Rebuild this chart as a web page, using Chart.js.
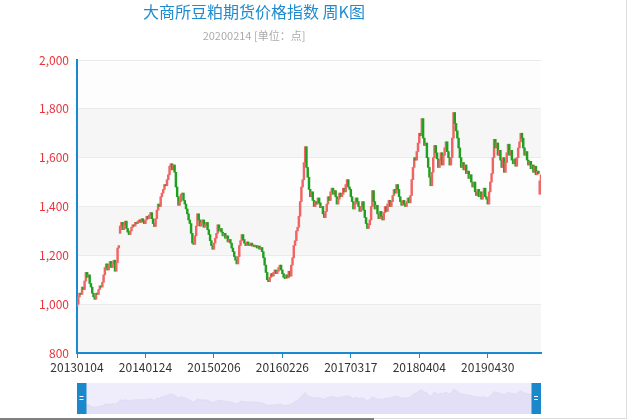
<!DOCTYPE html>
<html>
<head>
<meta charset="utf-8">
<script src="https://cdn.jsdelivr.net/npm/chart.js@4.4.1/dist/chart.umd.min.js"></script>
<style>
html, body { margin: 0; padding: 0; background: #fff; }
#wrap { position: relative; width: 632px; height: 420px; overflow: hidden; font-family: 'Noto Sans CJK SC', 'Noto Sans', sans-serif; }
#main { position: absolute; left: 0; top: 0; }
#zoom { position: absolute; left: 77px; top: 383px; }
#title { position: absolute; left: 0; top: 1px; width: 508px; text-align: center; font-size: 16px; line-height: 20px; color: #1f8bcf; white-space: nowrap; }
#subtitle { position: absolute; left: 0; top: 28px; width: 508px; text-align: center; font-size: 11px; line-height: 14px; color: #aaaaaa; white-space: nowrap; }
#frameR { position: absolute; left: 626px; top: 0; width: 1px; height: 418px; background: #dcdcdc; }
#frameB { position: absolute; left: 0; top: 418px; width: 627px; height: 1px; background: #dcdcdc; }
#thumb { position: absolute; left: 0; top: 418px; width: 374px; height: 2px; background: #808080; }
</style>
</head>
<body>
<div id="wrap">
  <canvas id="main" width="632" height="420"></canvas>
  <canvas id="zoom" width="464" height="31"></canvas>
  <div id="title">大商所豆粕期货价格指数 周K图</div>
  <div id="subtitle">20200214 [单位：点]</div>
  <div id="frameR"></div>
  <div id="frameB"></div>
  <div id="thumb"></div>
</div>
<script>
// weekly candles, 20130104 .. 20200214
var tickLabels = ['20130104', '20140124', '20150206', '20160226', '20170317', '20180404', '20190430'];
var tickStep = 54;

var opens = [
  990,1000,1030,1045,1040,1070,1060,1095,1130,1110,1120,1085,1070,1045,1030,1020,1045,1040,1060,1075,
  1070,1090,1120,1150,1165,1140,1160,1175,1150,1165,1180,1135,1170,1230,1290,1320,1335,1305,1325,1340,
  1310,1295,1285,1300,1315,1325,1320,1335,1330,1340,1345,1335,1350,1340,1330,1345,1360,1350,1365,1375,
  1350,1330,1318,1350,1385,1410,1400,1440,1455,1470,1490,1485,1510,1530,1565,1575,1550,1570,1540,1480,
  1440,1405,1420,1450,1455,1425,1410,1390,1370,1345,1330,1290,1250,1245,1280,1320,1370,1345,1320,1335,
  1345,1315,1325,1335,1305,1285,1260,1240,1225,1250,1270,1290,1325,1300,1310,1295,1280,1290,1270,1280,
  1255,1265,1250,1230,1215,1195,1180,1165,1195,1240,1260,1285,1265,1250,1240,1255,1245,1240,1250,1238,
  1242,1235,1240,1230,1238,1225,1232,1215,1190,1160,1130,1100,1092,1110,1125,1115,1130,1140,1125,1135,
  1150,1160,1140,1125,1110,1105,1120,1108,1135,1115,1160,1190,1240,1260,1300,1315,1360,1420,1480,1510,
  1580,1645,1560,1520,1470,1440,1460,1425,1400,1420,1410,1435,1415,1395,1400,1370,1355,1380,1410,1440,
  1425,1460,1475,1450,1465,1440,1410,1430,1455,1440,1450,1475,1460,1490,1510,1480,1470,1440,1420,1390,
  1410,1435,1420,1400,1380,1400,1420,1385,1355,1330,1310,1325,1345,1400,1465,1420,1390,1405,1370,1350,
  1380,1360,1345,1375,1400,1380,1410,1425,1400,1420,1445,1470,1455,1490,1470,1440,1420,1405,1425,1410,
  1400,1420,1435,1415,1445,1510,1560,1600,1590,1625,1660,1700,1690,1760,1680,1650,1660,1600,1560,1520,
  1485,1540,1600,1650,1620,1595,1560,1590,1620,1570,1610,1640,1665,1625,1600,1570,1600,1680,1785,1740,
  1710,1680,1640,1600,1560,1580,1550,1570,1535,1545,1515,1530,1500,1480,1500,1460,1445,1470,1440,1460,
  1430,1450,1475,1440,1430,1410,1460,1500,1535,1600,1675,1640,1660,1610,1630,1590,1560,1600,1540,1580,
  1620,1655,1610,1630,1590,1575,1595,1565,1600,1640,1665,1700,1680,1640,1610,1625,1590,1570,1585,1555,
  1570,1540,1565,1530,1545,1450,1505
];

var closes = [
  1000,1030,1045,1040,1070,1060,1095,1130,1110,1120,1085,1070,1045,1030,1020,1045,1040,1060,1075,1070,
  1090,1120,1150,1165,1140,1160,1175,1150,1165,1180,1135,1170,1230,1240,1320,1335,1305,1325,1340,1310,
  1295,1285,1300,1315,1325,1320,1335,1330,1340,1345,1335,1350,1340,1330,1345,1360,1350,1365,1375,1350,
  1330,1318,1350,1385,1410,1400,1440,1455,1470,1490,1485,1510,1530,1565,1575,1550,1570,1540,1480,1440,
  1405,1420,1450,1455,1425,1410,1390,1370,1345,1330,1290,1250,1245,1280,1320,1370,1345,1320,1335,1345,
  1315,1325,1335,1305,1285,1260,1240,1225,1250,1270,1290,1325,1300,1310,1295,1280,1290,1270,1280,1255,
  1265,1250,1230,1215,1195,1180,1165,1195,1240,1260,1285,1265,1250,1240,1255,1245,1240,1250,1238,1242,
  1235,1240,1230,1238,1225,1232,1215,1190,1160,1130,1100,1092,1110,1125,1115,1130,1140,1125,1135,1150,
  1160,1140,1125,1110,1105,1120,1108,1135,1115,1160,1190,1240,1260,1300,1315,1360,1420,1480,1510,1580,
  1645,1560,1520,1470,1440,1460,1425,1400,1420,1410,1435,1415,1395,1400,1370,1355,1380,1410,1440,1425,
  1460,1475,1450,1465,1440,1410,1430,1455,1440,1450,1475,1460,1490,1510,1480,1470,1440,1420,1390,1410,
  1435,1420,1400,1380,1400,1420,1385,1355,1330,1310,1325,1345,1400,1465,1420,1390,1405,1370,1350,1380,
  1360,1345,1375,1400,1380,1410,1425,1400,1420,1445,1470,1455,1490,1470,1440,1420,1405,1425,1410,1400,
  1420,1435,1415,1445,1510,1560,1600,1590,1625,1660,1700,1690,1760,1680,1650,1660,1600,1560,1520,1485,
  1540,1600,1650,1620,1595,1560,1590,1620,1570,1610,1640,1665,1625,1600,1570,1600,1680,1785,1740,1710,
  1680,1640,1600,1560,1580,1550,1570,1535,1545,1515,1530,1500,1480,1500,1460,1445,1470,1440,1460,1430,
  1450,1475,1440,1430,1410,1460,1500,1535,1600,1675,1640,1660,1610,1630,1590,1560,1600,1540,1580,1620,
  1655,1610,1630,1590,1575,1595,1565,1600,1640,1665,1700,1680,1640,1610,1625,1590,1570,1585,1555,1570,
  1540,1565,1530,1545,1535,1505,1530
];

var upColor = '#f06464';
var downColor = '#20a020';
var axisBlue = '#1a8ad0';
var fontFamily = "'Noto Sans CJK SC', 'Noto Sans', sans-serif";

Chart.defaults.font.family = fontFamily;

var weekIndex = closes.map(function (c, i) { return i; });
var candles = opens.map(function (o, i) { return [o, closes[i]]; });
var candleColors = opens.map(function (o, i) { return closes[i] >= o ? upColor : downColor; });

// alternating split areas behind the grid
var bandPlugin = {
  id: 'bands',
  beforeDraw: function (chart) {
    var ctx = chart.ctx, a = chart.chartArea, y = chart.scales.y;
    ctx.save();
    for (var v = 800; v < 2000; v += 200) {
      ctx.fillStyle = ((v - 800) / 200) % 2 === 0 ? '#f6f6f6' : '#fdfdfd';
      var top = y.getPixelForValue(v + 200), bot = y.getPixelForValue(v);
      ctx.fillRect(a.left, top, a.right - a.left, bot - top);
    }
    ctx.restore();
  }
};

new Chart(document.getElementById('main'), {
  type: 'bar',
  data: {
    labels: weekIndex,
    datasets: [{
      data: candles,
      backgroundColor: candleColors,
      barThickness: 1.8,
      minBarLength: 1
    }]
  },
  options: {
    responsive: false,
    animation: false,
    layout: { padding: { top: 60, right: 91, left: 0, bottom: 0 } },
    plugins: {
      legend: { display: false },
      tooltip: { enabled: false }
    },
    scales: {
      x: {
        type: 'category',
        offset: false,
        grid: { drawOnChartArea: false, drawTicks: true, tickLength: 5, tickColor: axisBlue, offset: false },
        border: { color: axisBlue, width: 2 },
        ticks: {
          autoSkip: false,
          maxRotation: 0,
          color: '#333',
          font: { size: 12 },
          padding: 2,
          callback: function (v, i) { return i % tickStep === 0 ? tickLabels[i / tickStep] : null; }
        },
        afterFit: function (s) { s.height = 67; }
      },
      y: {
        min: 800,
        max: 2000,
        ticks: { stepSize: 200, color: '#e8333c', padding: 8, font: { size: 12 } },
        grid: { color: '#ebebeb', drawTicks: false },
        border: { color: axisBlue, width: 2 },
        afterFit: function (s) { s.width = 77; }
      }
    }
  },
  plugins: [bandPlugin]
});

// data zoom slider with shadow of the series
var sliderPlugin = {
  id: 'slider',
  beforeDraw: function (chart) {
    var ctx = chart.ctx;
    ctx.save();
    ctx.fillStyle = '#efedfb';
    ctx.fillRect(0, 0, chart.width, chart.height);
    ctx.restore();
  },
  afterDraw: function (chart) {
    var ctx = chart.ctx, h = chart.height;
    ctx.save();
    ctx.fillStyle = '#1b88cb';
    ctx.fillRect(0, 0, 9.5, h);
    ctx.fillRect(chart.width - 9.5, 0, 9.5, h);
    ctx.fillStyle = '#fff';
    [2.5, chart.width - 7].forEach(function (x) {
      ctx.fillRect(x, 13, 4, 1);
      ctx.fillRect(x, 16, 4, 1);
    });
    ctx.restore();
  }
};

new Chart(document.getElementById('zoom'), {
  type: 'line',
  data: {
    labels: weekIndex,
    datasets: [{
      data: closes,
      fill: 'start',
      backgroundColor: '#e3dff6',
      borderColor: '#e0dcf5',
      borderWidth: 1,
      pointRadius: 0,
      tension: 0
    }]
  },
  options: {
    responsive: false,
    animation: false,
    layout: { padding: 0 },
    plugins: { legend: { display: false }, tooltip: { enabled: false } },
    scales: {
      x: { display: false, offset: false },
      y: { display: false, min: 750, max: 2030 }
    }
  },
  plugins: [sliderPlugin]
});
</script>
</body>
</html>
